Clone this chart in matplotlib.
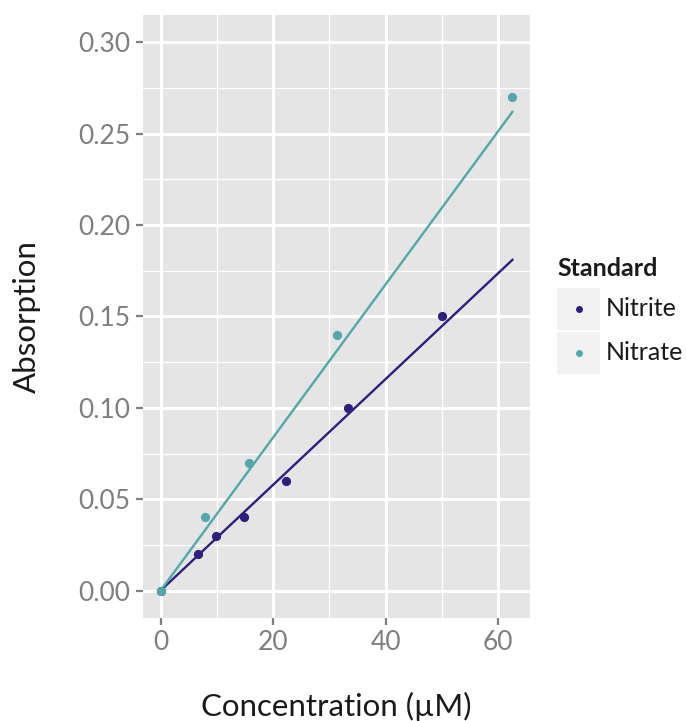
import matplotlib
matplotlib.use("Agg")
import matplotlib.pyplot as plt
from matplotlib.patches import Rectangle
from matplotlib.lines import Line2D
import numpy as np

plt.rcParams['font.family'] = ['Lato', 'DejaVu Sans']

# standard dilution series
nitrite_conc = [0, 6.58, 9.88, 14.81, 22.22, 33.33, 50.0]
nitrite_abs = [0.0, 0.02, 0.03, 0.04, 0.06, 0.10, 0.15]
nitrate_conc = [0, 7.81, 15.63, 31.25, 62.5]
nitrate_abs = [0.0, 0.04, 0.07, 0.14, 0.27]

# calibration lines (start / end)
fit_x = [0, 62.5]
nitrite_fit = [0.0, 0.181]
nitrate_fit = [0.0, 0.262]

labels = ["Nitrite", "Nitrate"]
colors = ["#2e1f7c", "#52a8a8"]

W, H = 686, 721
fig = plt.figure(figsize=(W / 100, H / 100), dpi=100)
ax = fig.add_axes([143 / W, 1 - 618 / H, (530 - 143) / W, (618 - 15) / H])
ax.set_facecolor("#e5e5e5")
for s in ax.spines.values():
    s.set_visible(False)

ax.set_xlim(-3.125, 65.625)
ax.set_ylim(-0.015, 0.315)
ax.set_xticks([0, 20, 40, 60])
ax.set_xticks([10, 30, 50], minor=True)
ax.set_yticks(np.arange(0, 0.31, 0.05))
ax.set_yticks(np.arange(0.025, 0.31, 0.05), minor=True)
ax.set_yticklabels([f"{v:.2f}" for v in np.arange(0, 0.31, 0.05)])
ax.grid(which="major", color="white", lw=2.2)
ax.grid(which="minor", color="white", lw=0.9)
ax.set_axisbelow(True)
ax.tick_params(which="major", length=5, width=1.6, color="#7f7f7f",
               labelcolor="#7f7f7f", labelsize=19, pad=4)
ax.tick_params(which="minor", length=0)

ax.plot(fit_x, nitrite_fit, color=colors[0], lw=1.7, zorder=3)
ax.plot(fit_x, nitrate_fit, color=colors[1], lw=1.7, zorder=3)
ax.scatter(nitrite_conc, nitrite_abs, s=44, color=colors[0], zorder=4, lw=0)
ax.scatter(nitrate_conc, nitrate_abs, s=44, color=colors[1], zorder=4, lw=0)

ax.set_xlabel("Concentration (µM)", fontsize=22.5, color="#1a1a1a", labelpad=26)
ax.set_ylabel("Absorption", fontsize=22.5, color="#1a1a1a", labelpad=27)

# legend drawn in pixel positions
fig.text(557 / W, 1 - 268 / H, "Standard", fontsize=18, fontweight="bold",
         va="center", ha="left", color="#1a1a1a")
for i, (lab, c) in enumerate(zip(labels, colors)):
    top = 288 + i * 44
    fig.add_artist(Rectangle((557 / W, 1 - (top + 42) / H), 43 / W, 42 / H,
                             transform=fig.transFigure, facecolor="#f2f2f2",
                             edgecolor="none"))
    cy = 1 - (top + 21) / H
    fig.add_artist(Line2D([579 / W], [cy], marker="o", markersize=5,
                          color=c, markeredgewidth=0,
                          transform=fig.transFigure))
    fig.text(606 / W, cy, lab, fontsize=18, va="center", ha="left",
             color="#1a1a1a")

fig.savefig("out.png", dpi=100)
